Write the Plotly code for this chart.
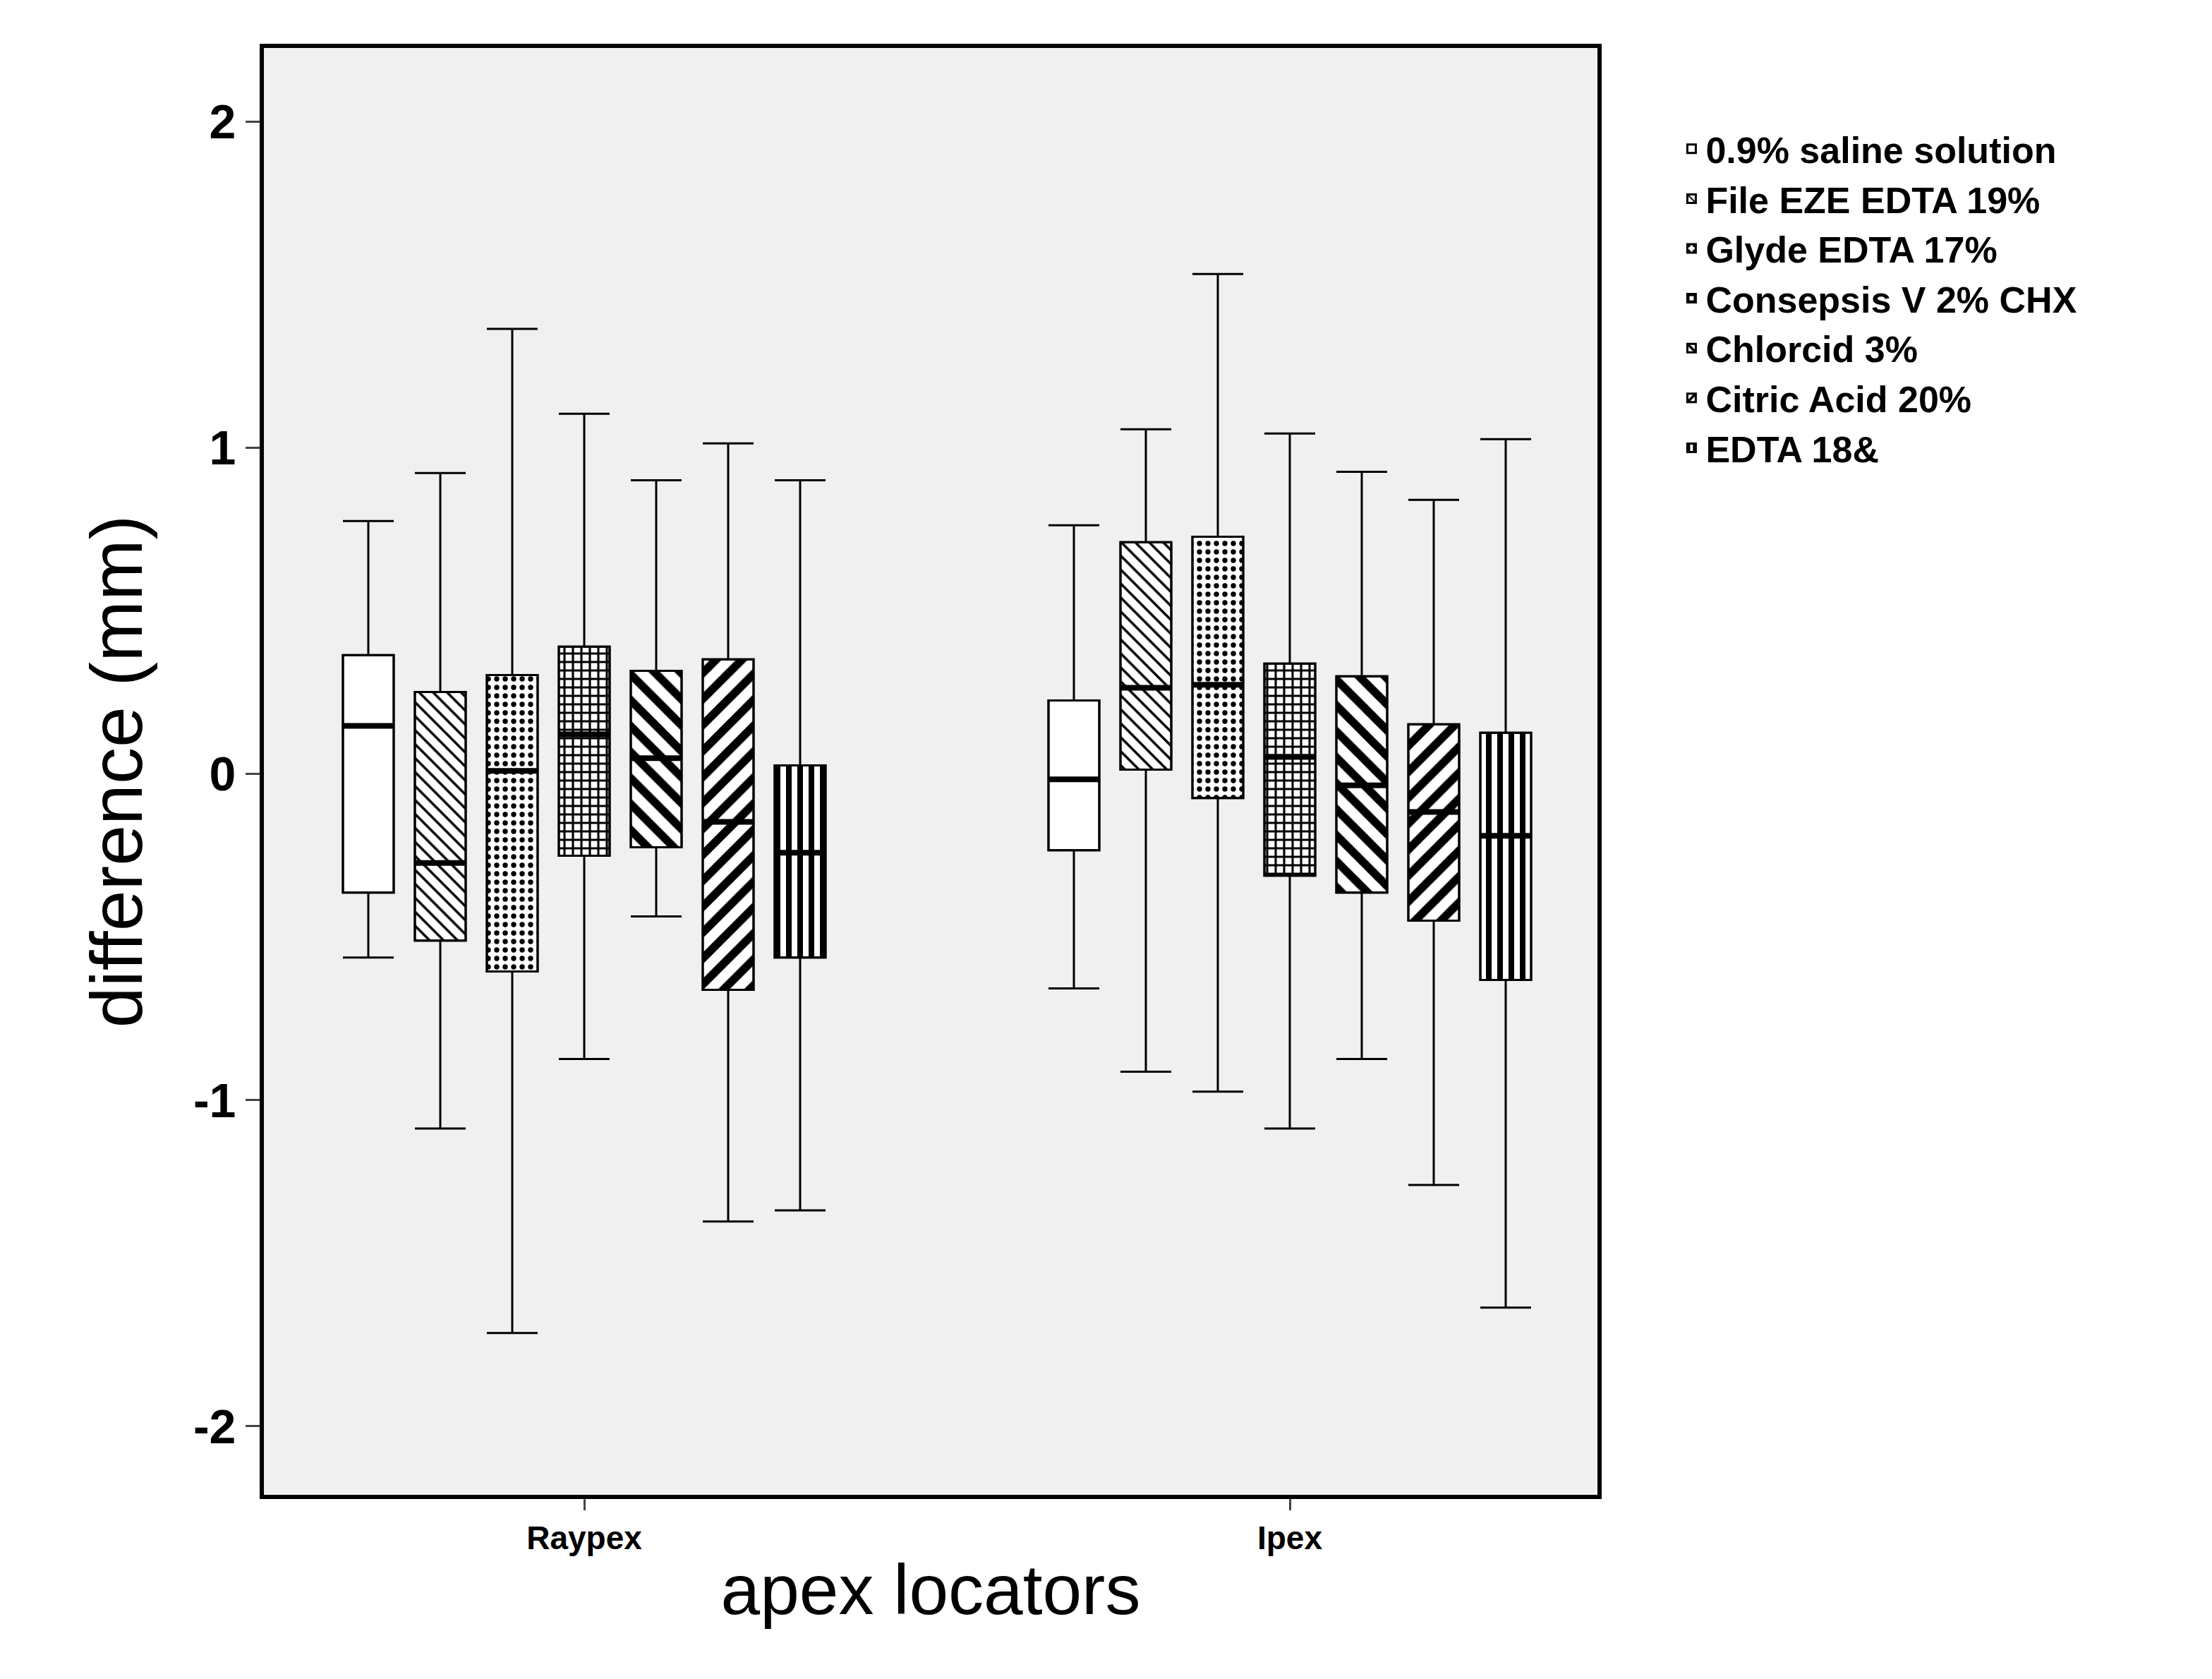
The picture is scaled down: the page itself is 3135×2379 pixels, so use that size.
import plotly.graph_objects as go

groups = ["Raypex", "Ipex"]
solutions = ["0.9% saline solution", "File EZE EDTA 19%", "Glyde EDTA 17%",
             "Consepsis V 2% CHX", "Chlorcid 3%", "Citric Acid 20%", "EDTA 18&"]
upper = {"Raypex": [0.775, 0.922, 1.364, 1.104, 0.900, 1.013, 0.900],
         "Ipex":   [0.762, 1.056, 1.532, 1.043, 0.926, 0.840, 1.026]}
q3 = {"Raypex": [0.364, 0.251, 0.303, 0.390, 0.316, 0.351, 0.026],
      "Ipex":   [0.225, 0.710, 0.727, 0.338, 0.299, 0.152, 0.126]}
median = {"Raypex": [0.147, -0.273, 0.009, 0.121, 0.048, -0.147, -0.242],
          "Ipex":   [-0.017, 0.264, 0.273, 0.052, -0.035, -0.117, -0.190]}
q1 = {"Raypex": [-0.364, -0.511, -0.606, -0.251, -0.225, -0.662, -0.563],
      "Ipex":   [-0.234, 0.013, -0.074, -0.312, -0.364, -0.450, -0.632]}
lower = {"Raypex": [-0.563, -1.087, -1.714, -0.874, -0.437, -1.372, -1.338],
         "Ipex":   [-0.658, -0.913, -0.974, -1.087, -0.874, -1.260, -1.636]}
y_ticks = [-2, -1, 0, 1, 2]
y_ticktext = ["-2", "-1", "0", "1", "2"]

patterns = [dict(shape=""), dict(shape="\\", size=14, solidity=0.25),
            dict(shape=".", size=12, solidity=0.3), dict(shape="+", size=12, solidity=0.45),
            dict(shape="\\", size=26, solidity=0.45), dict(shape="/", size=26, solidity=0.45),
            dict(shape="|", size=16, solidity=0.5)]

spacing, width = 0.102, 0.072
fig = go.Figure()
for i, s in enumerate(solutions):
    xs = [gi + (i - 3) * spacing for gi in range(len(groups))]
    pat = dict(patterns[i], fgcolor="black", bgcolor="white", fillmode="replace")
    fig.add_trace(go.Bar(x=xs, base=[q1[g][i] for g in groups],
                         y=[q3[g][i] - q1[g][i] for g in groups], width=width, name=s,
                         marker=dict(color="white", pattern=pat, line=dict(color="black", width=3))))
mx, my = [], []
for i, s in enumerate(solutions):
    xs = [gi + (i - 3) * spacing for gi in range(len(groups))]
    fig.add_trace(go.Box(x=xs, q1=[q1[g][i] for g in groups], median=[median[g][i] for g in groups],
                         q3=[q3[g][i] for g in groups], lowerfence=[lower[g][i] for g in groups],
                         upperfence=[upper[g][i] for g in groups], width=width, whiskerwidth=1,
                         fillcolor="rgba(0,0,0,0)", line=dict(color="black", width=3),
                         showlegend=False, hoverinfo="skip"))
    for gi, g in enumerate(groups):
        mx += [xs[gi] - width / 2, xs[gi] + width / 2, None]
        my += [median[g][i], median[g][i], None]
fig.add_trace(go.Scatter(x=mx, y=my, mode="lines", line=dict(color="black", width=8),
                         showlegend=False, hoverinfo="skip"))

fig.update_layout(
    width=3135, height=2379, paper_bgcolor="white", plot_bgcolor="#f0f0f0",
    margin=dict(l=366, r=879, t=60, b=269), barmode="overlay",
    font=dict(family="Liberation Sans", color="black"),
    legend=dict(x=1.06, y=0.95, xanchor="left", yanchor="top", traceorder="normal",
                font=dict(size=52, family="Liberation Sans", weight="bold"), tracegroupgap=0,
                itemwidth=30, bgcolor="rgba(0,0,0,0)"),
)
fig.update_xaxes(range=[-0.454, 1.436], tickvals=[0, 1], ticktext=groups, ticks="outside",
                 ticklen=16, tickwidth=3, tickfont=dict(size=46, weight="bold"),
                 title=dict(text="apex locators", font=dict(size=100)), showgrid=False,
                 zeroline=False, showline=True, linewidth=6, linecolor="black", mirror=True)
fig.update_yaxes(range=[-2.21, 2.225], tickvals=y_ticks, ticktext=y_ticktext, ticks="outside",
                 ticklen=20, tickwidth=3, tickfont=dict(size=68, weight="bold"),
                 title=dict(text="difference (mm)", font=dict(size=104), standoff=40), showgrid=False,
                 zeroline=False, showline=True, linewidth=6, linecolor="black", mirror=True)
fig.write_html("out.html")
